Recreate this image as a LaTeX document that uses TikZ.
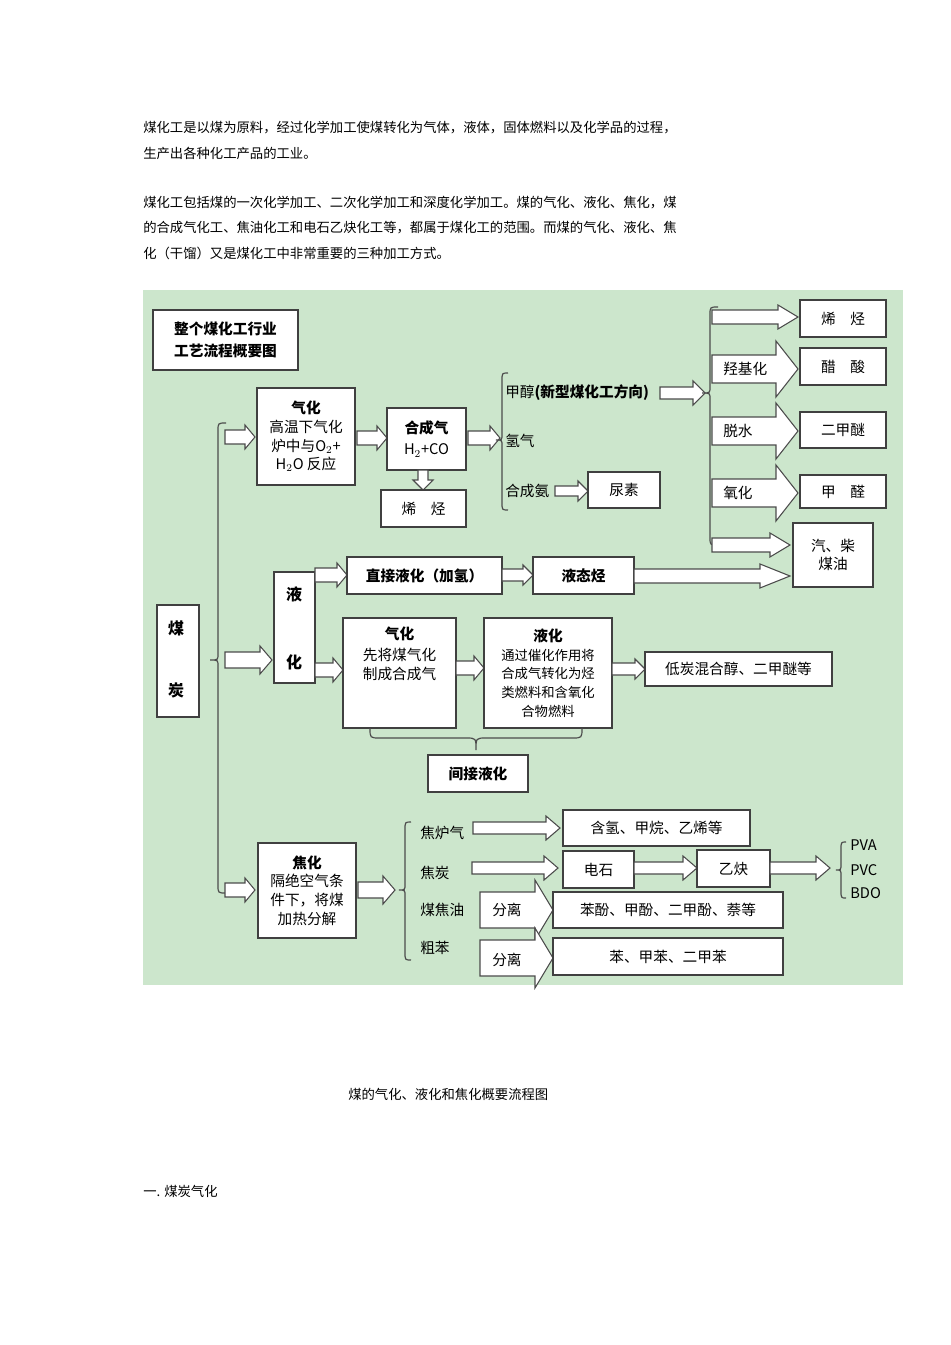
\documentclass[tikz,border=0pt]{standalone}
\usepackage{fontspec}
\setmainfont{Noto Sans CJK SC}
\newfontfamily\serifcjk{Noto Sans CJK SC}
\begin{document}
\begin{tikzpicture}[x=0.75pt,y=-0.75pt,
  bx/.style={draw=black!75,line width=1pt,fill=white,inner sep=0pt,align=center,font=\fontsize{11}{14}\selectfont},
  tx/.style={inner sep=0pt,anchor=west,font=\fontsize{11}{14}\selectfont},
  ar/.style={draw=black!70,line width=0.8pt,fill=white},
  br/.style={draw=black!70,line width=0.9pt},
  para/.style={inner sep=0pt,anchor=west,font=\fontsize{10}{12}\selectfont}]
\useasboundingbox (0,0) rectangle (950,1345);
\fill[white] (0,0) rectangle (950,1345);
\newcommand\bx[6]{\node[bx,minimum width={(#4-#2)*0.75pt},minimum height={(#5-#3)*0.75pt}] (#1) at ({(#2+#4)/2},{(#3+#5)/2}) {#6};}
\newcommand\barr[6]{\draw[ar] (#1,{#3-#4})--({#2-#6},{#3-#4})--({#2-#6},{#3-#5})--(#2,#3)--({#2-#6},{#3+#5})--({#2-#6},{#3+#4})--(#1,{#3+#4})--cycle;}
\newcommand\lbr[5]{\draw[br] ({#1+#5},#2) .. controls (#1,#2) .. (#1,{#2+8}) -- (#1,{#4-6}) .. controls (#1,#4) .. ({#1-#5},#4) .. controls (#1,#4) .. (#1,{#4+6}) -- (#1,{#3-8}) .. controls (#1,#3) .. ({#1+#5},#3);}
% paragraphs
\node[para] (p1) at (143,128) {煤化工是以煤为原料，经过化学加工使煤转化为气体，液体，固体燃料以及化学品的过程，};
\node[para] (p2) at (143,153) {生产出各种化工产品的工业。};
\node[para] (p3) at (143,203) {煤化工包括煤的一次化学加工、二次化学加工和深度化学加工。煤的气化、液化、焦化，煤};
\node[para] (p4) at (143,228) {的合成气化工、焦油化工和电石乙炔化工等，都属于煤化工的范围。而煤的气化、液化、焦};
\node[para] (p5) at (143,253) {化（干馏）又是煤化工中非常重要的三种加工方式。};
\node[para] (cap) at (348,1094) {煤的气化、液化和焦化概要流程图};
\node[para] (h1) at (143,1191) {一. 煤炭气化};
% background
\fill[green!45!black!10!white,fill=green!25!white!80!gray!60] (143,290) rectangle (903,985);
\fill[fill={rgb,255:red,204;green,230;blue,204}] (143,290) rectangle (903,985);
% title
\bx{title}{153}{310}{298}{370}{\textbf{整个煤化工行业}\\[3pt]\textbf{工艺流程概要图}}
% coal
\bx{coal}{157}{605}{199}{717}{}
\node[font=\bfseries\fontsize{12}{14}\selectfont] (m1) at (176,628) {煤};
\node[font=\bfseries\fontsize{12}{14}\selectfont] (m2) at (176,690) {炭};
\lbr{218}{423}{893}{660}{8}
% gasification
\barr{225}{255}{437}{7}{12}{10}
\bx{gas}{257}{388}{355}{485}{\textbf{气化}\\高温下气化\\炉中与O$_2$+\\H$_2$O 反应}
\barr{357}{387}{438}{7}{12}{10}
\bx{syn}{387}{408}{466}{470}{\textbf{合成气}\\[2pt]H$_2$+CO}
\draw[ar] (418,470)--(418,480)--(413,480)--(423,490)--(433,480)--(428,480)--(428,470)--cycle;
\bx{olef1}{381}{490}{466}{527}{烯\quad 烃}
\barr{468}{500}{438}{7}{12}{10}
\lbr{502}{373}{510}{440}{6}
\node[tx] (meth) at (505,393) {甲醇\textbf{(新型煤化工方向)}};
\node[tx] (h2) at (505,441) {氢气};
\node[tx] (nh3) at (505,491) {合成氨};
\barr{555}{588}{491}{5}{10}{10}
\bx{urea}{588}{472}{660}{508}{尿素}
\barr{660}{705}{393}{6}{12}{12}
\lbr{710}{307}{545}{393}{8}
\barr{712}{798}{317}{7}{12}{20}
\bx{olef2}{800}{300}{886}{337}{烯\quad 烃}
\barr{712}{798}{369}{14}{28}{22}
\node[tx] (l1) at (723,369) {羟基化};
\bx{acet}{800}{348}{886}{385}{醋\quad 酸}
\barr{712}{798}{431}{14}{28}{22}
\node[tx] (l2) at (723,431) {脱水};
\bx{dme}{800}{412}{886}{448}{二甲醚}
\barr{712}{798}{493}{14}{28}{22}
\node[tx] (l3) at (723,493) {氧化};
\bx{form}{800}{475}{886}{508}{甲\quad 醛}
\barr{712}{790}{545}{7}{12}{20}
\bx{fuel}{793}{523}{873}{587}{汽、柴\\煤油}
% liquefaction
\barr{225}{272}{660}{8}{14}{12}
\bx{liq}{274}{572}{315}{683}{}
\node[font=\bfseries\fontsize{12}{14}\selectfont] (y1) at (294,594) {液};
\node[font=\bfseries\fontsize{12}{14}\selectfont] (y2) at (294,662) {化};
\barr{315}{347}{575}{7}{12}{10}
\barr{315}{343}{670}{7}{12}{10}
\bx{dir}{347}{557}{502}{594}{\textbf{直接液化（加氢）}}
\barr{502}{533}{575}{6}{10}{10}
\bx{lh}{533}{557}{634}{594}{\textbf{液态烃}}
\barr{634}{790}{576}{7}{12}{30}
\bx{g2}{343}{618}{456}{728}{\textbf{气化}\\[2pt]先将煤气化\\制成合成气\\[16pt]}
\barr{456}{484}{668}{7}{12}{10}
\bx{l2b}{484}{618}{612}{728}{\textbf{液化}\\{\fontsize{10}{12}\selectfont 通过催化作用将}\\{\fontsize{10}{12}\selectfont 合成气转化为烃}\\{\fontsize{10}{12}\selectfont 类燃料和含氧化}\\{\fontsize{10}{12}\selectfont 合物燃料}}
\barr{612}{645}{669}{6}{10}{10}
\bx{low}{645}{652}{832}{686}{低炭混合醇、二甲醚等}
\draw[br] (370,728) .. controls (370,738) .. (380,738) -- (466,738) .. controls (476,738) .. (476,750) .. controls (476,738) .. (486,738) -- (572,738) .. controls (582,738) .. (582,728);
\bx{ind}{428}{755}{528}{792}{\textbf{间接液化}}
% coking
\barr{225}{255}{890}{7}{12}{10}
\bx{cok}{258}{843}{356}{938}{\textbf{焦化}\\隔绝空气条\\件下，将煤\\加热分解}
\barr{358}{395}{890}{8}{14}{12}
\lbr{405}{822}{960}{890}{6}
\node[tx] (k1) at (420,833) {焦炉气};
\node[tx] (k2) at (420,873) {焦炭};
\node[tx] (k3) at (420,910) {煤焦油};
\node[tx] (k4) at (420,948) {粗苯};
\barr{473}{560}{828}{6}{12}{14}
\bx{cog}{563}{810}{750}{846}{含氢、甲烷、乙烯等}
\barr{472}{558}{868}{6}{12}{14}
\bx{carb}{563}{851}{634}{888}{电石}
\barr{634}{697}{868}{6}{12}{14}
\bx{acy}{697}{850}{770}{887}{乙炔}
\barr{770}{830}{868}{6}{12}{14}
\lbr{841}{842}{898}{870}{5}
\node[tx] (v1) at (850,845) {PVA};
\node[tx] (v2) at (850,870) {PVC};
\node[tx] (v3) at (850,893) {BDO};
\barr{480}{553}{910}{18}{30}{18}
\node[tx] (s1) at (492,910) {分离};
\bx{phen}{553}{892}{783}{928}{苯酚、甲酚、二甲酚、萘等}
\barr{480}{553}{958}{18}{30}{18}
\node[tx] (s2) at (492,960) {分离};
\bx{benz}{553}{938}{783}{975}{苯、甲苯、二甲苯}
\end{tikzpicture}
\end{document}
